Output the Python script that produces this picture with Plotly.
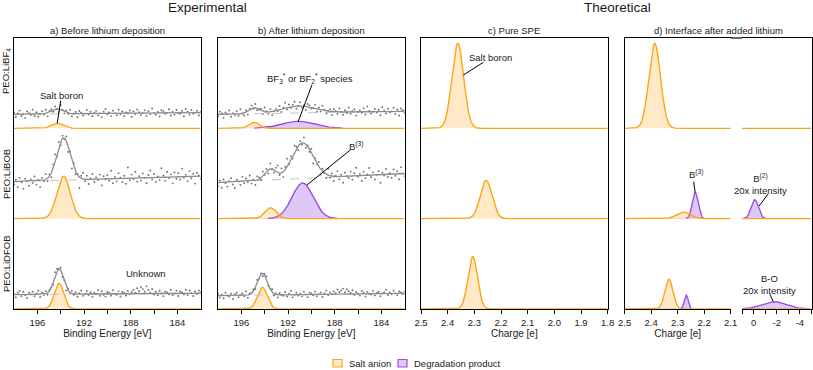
import numpy as np
import plotly.graph_objects as go

W, H = 813, 370
FONT = "Liberation Sans, Arial, sans-serif"

ORANGE = "#FFA514"
ORANGE_FILL = "rgba(255,175,50,0.28)"
PURPLE = "#9B4DE8"
PURPLE_FILL = "rgba(150,85,230,0.32)"

# sample rows, top to bottom; each row is one unit high on the y axes
row_labels = ["PEO:LiBF<sub>4</sub>", "PEO:LiBOB", "PEO:LiDFOB"]
row_offset = [2, 1, 0]

# peak components: panel, row, kind, centre, height (row units), sigma
peak_panel = ["a", "a", "a", "b", "b", "b", "b", "b",
              "c", "c", "c", "d1", "d1", "d1", "d1", "d1", "d2", "d2"]
peak_row = [0, 1, 2, 0, 0, 1, 1, 2, 0, 1, 2, 0, 1, 1, 2, 2, 1, 2]
peak_kind = ["salt", "salt", "salt", "salt", "deg", "salt", "deg", "salt",
             "salt", "salt", "salt", "salt", "salt", "deg", "salt", "deg", "deg", "deg"]
peak_centre = [194.3, 193.75, 194.15, 194.9, 191.1, 193.5, 190.75, 194.2,
               2.362, 2.256, 2.306, 2.387, 2.278, 2.234, 2.333, 2.268, -0.1, -1.8]
peak_height = [0.055, 0.47, 0.285, 0.066, 0.078, 0.12, 0.395, 0.24,
               0.94, 0.424, 0.58, 0.94, 0.072, 0.29, 0.33, 0.155, 0.21, 0.08]
peak_sigma = [0.5, 0.57, 0.40, 0.45, 1.4, 0.48, 0.91, 0.42,
              0.022, 0.022, 0.018, 0.022, 0.026, 0.011, 0.015, 0.007, 0.31, 1.05]

# XPS spectra: linear background (at 198 eV and at 182 eV)
spec_panel = ["a", "a", "a", "b", "b", "b"]
spec_row = [0, 1, 2, 0, 1, 2]
bg_left = [0.155, 0.41, 0.16, 0.155, 0.40, 0.148]
bg_right = [0.175, 0.47, 0.175, 0.19, 0.50, 0.175]

# measured points, as deviation from the fit envelope (hundredths of a row)
res_a1 = [2, -3, 1, 4, -2, 0, -4, 3, 1, -1, 5, -2, 2, -3, 0, 3, -1, 4, -4, 1, 2, -2, 3, 0, -3, 5, 1, -2, 2, -1,
          4, -3, 0, 2, -4, 3, 1, -2, 0, 4, -1, 2, -3, 1, 3, -2, 0, -4, 2, 5, -1, 1, -3, 3, 0, -2, 4, -1, 2, -3,
          1, 0, 3, -4, 2, -1, 4, 1, -2, 0, 3, -3, 2, -1, 5, 0, -2, 1, -4, 3, 2, -1, 0, 4, -3, 1, -2, 3, 0, -1,
          2, -4, 4, 1, -2, 3, -1, 0, 2, -3, 1]
res_a2 = [-3, 2, -6, 4, -1, -8, 3, 0, -5, 2, -2, 5, -4, 1, -7, 3, -1, 6, -3, 2, -5, 4, 8, -2, 6, -4, 3, -1, 5, -6,
          2, -9, 4, -3, 1, -12, 3, 7, -2, 4, -5, 1, 6, -3, 2, -1, 5, -7, 3, 0, 4, -2, 9, -5, 2, -3, 6, 1, -4, 3,
          -6, 12, -2, 4, -1, 7, -4, 2, -3, 5, 0, -6, 3, 8, -2, 4, -5, 1, -3, 10, 2, -4, 6, -1, 3, -7, 5, -2, 4, -3,
          9, -1, 2, -5, 6, -2, 3, -8, 4, 1, -3]
res_a3 = [1, -3, 2, 4, -2, 3, -1, -4, 2, 0, 3, -2, 1, 4, -3, 2, -1, 3, -2, 1, 0, -3, 4, 2, -1, 3, -2, 1, -4, 2,
          0, 3, -1, 2, -3, 1, 4, -2, 0, 3, -1, 2, -3, 1, 0, 4, -2, 3, -1, -3, 2, 1, -2, 4, 0, -1, 3, -3, 2, 1,
          -2, 3, 0, 2, 4, 1, 6, 3, 7, 5, 2, 8, 4, 1, 5, -1, 2, -2, 3, 0, -3, 2, 1, -1, 4, -2, 0, 3, -3, 2,
          1, -1, 4, -2, 3, 0, -3, 2, -1, 3, 1]
res_b1 = [-2, 3, 1, -4, 2, 0, 4, -3, 1, -1, 3, -2, 5, 0, -3, 2, -4, 1, 3, -1, 4, -2, 0, 2, -3, 5, 1, -2, 3, -4,
          0, 2, -1, 4, -3, 1, 6, -2, 3, -1, 2, 5, -3, 0, 4, -2, 1, -4, 3, 2, -1, 0, 4, -3, 2, -2, 5, 1, -3, 0,
          2, -4, 3, 1, -2, 4, 0, -3, 2, -1, 5, -2, 1, 3, -4, 0, 2, -1, 4, -3, 6, 1, -2, 0, 3, -1, 2, -4, 5, 1,
          -2, 3, -1, 0, 4, -3, 2, -5, 3, 1, -2]
res_b2 = [-4, 2, -6, 3, -1, -5, 1, 4, -3, -7, 2, 0, -4, 5, -2, 3, -1, 6, -3, 1, -5, 4, 2, -2, 5, -1, 3, -4, 6, 0,
          -3, 4, 8, -2, 5, -6, 3, 9, -1, 4, -3, 7, 2, -5, 3, -2, 6, -4, 1, -3, 4, -8, 2, -1, 5, -6, 3, 0, -4, 7,
          -2, 3, -5, 1, 6, -3, 2, -7, 4, 0, -2, 5, -4, 3, 9, -1, 2, -6, 4, -3, 1, 8, -2, 3, -5, 0, 4, -9, 2, -1,
          6, -3, 1, -4, 5, -2, 3, -6, 7, 0, -3]
res_b3 = [2, -2, 1, -3, 3, 0, -1, 2, -4, 1, 3, -2, 0, 2, -1, 4, -3, 1, 0, 2, -2, 3, -1, 1, -3, 2, 4, -1, 0, 3,
          -2, 1, -3, 2, 0, -1, 3, -2, 1, 4, -3, 0, 2, -1, 1, -2, 3, 0, -3, 2, 1, -1, 3, -2, 0, 2, -3, 1, 4, -1,
          2, 0, 3, 1, 5, 2, 4, 6, 2, 5, 3, 1, 4, -1, 2, 0, -2, 3, 1, -3, 2, 0, -1, 3, -2, 1, 2, -3, 0, 1,
          4, -2, 1, -1, 3, 0, -2, 2, 1, -1, 2]
residuals = [res_a1, res_a2, res_a3, res_b1, res_b2, res_b3]

be_ticks = [196, 194, 192, 190, 188, 186, 184]
be_text = ["196", "", "192", "", "188", "", "184"]
charge_ticks = [2.5, 2.4, 2.3, 2.2, 2.1, 2.0, 1.9, 1.8]
charge_text = ["2.5", "2.4", "2.3", "2.2", "2.1", "2.0", "1.9", "1.8"]
d_ticks = [2.5, 2.4, 2.3, 2.2, 2.1]
d_text = ["2.5", "2.4", "2.3", "2.2", "2.1"]
d2_ticks = [1, 0, -1, -2, -3, -4, -5]
d2_text = ["", "0", "", "-2", "", "-4", ""]

panels = {
    "a": dict(n=1, rng=[198, 182], px=(14, 200.7), tv=be_ticks, tt=be_text, title="Binding Energy [eV]"),
    "b": dict(n=2, rng=[198, 182], px=(218, 404.7), tv=be_ticks, tt=be_text, title="Binding Energy [eV]"),
    "c": dict(n=3, rng=[2.5, 1.8], px=(421, 607.7), tv=charge_ticks, tt=charge_text, title="Charge [e]"),
    "d1": dict(n=4, rng=[2.5, 2.1], px=(624.7, 730.7), tv=d_ticks, tt=d_text, title="Charge [e]"),
    "d2": dict(n=5, rng=[1, -5], px=(742, 811.5), tv=d2_ticks, tt=d2_text, title=""),
}


def gauss(x, c, h, s):
    return h * np.exp(-0.5 * ((x - c) / s) ** 2)


def comps(panel, row, kind, x):
    y = np.zeros_like(x)
    for p, r, k, c, h, s in zip(peak_panel, peak_row, peak_kind, peak_centre, peak_height, peak_sigma):
        if p == panel and r == row and (kind is None or k == kind):
            y += gauss(x, c, h, s)
    return y


def px_x(v):
    return v / W


def px_y(v):
    return 1 - v / H


def axis_ids(n):
    return ("x", "y") if n == 1 else (f"x{n}", f"y{n}")


fig = go.Figure()

for key, p in panels.items():
    xs = np.linspace(p["rng"][0], p["rng"][1], 1201)
    xa, ya = axis_ids(p["n"])
    for row in range(3):
        off = row_offset[row]
        for kind, lc, fc in (("deg", PURPLE, PURPLE_FILL), ("salt", ORANGE, ORANGE_FILL)):
            has = any(pp == key and r == row and k == kind for pp, r, k in zip(peak_panel, peak_row, peak_kind))
            if not has and kind == "deg":
                continue
            y = comps(key, row, kind, xs)
            if has:
                fig.add_trace(go.Scatter(
                    x=np.concatenate([xs, xs[::-1]]), y=np.concatenate([y + off, np.full_like(xs, off)]),
                    fill="toself", fillcolor=fc, line=dict(width=0), mode="lines",
                    hoverinfo="skip", showlegend=False, xaxis=xa, yaxis=ya))
            if kind == "deg":
                xl = np.where(y > 2e-3, xs, np.nan)
                fig.add_trace(go.Scatter(x=xl, y=y + off, mode="lines", line=dict(color=lc, width=1.4),
                                         connectgaps=False, hoverinfo="skip", showlegend=False,
                                         xaxis=xa, yaxis=ya))
            else:
                fig.add_trace(go.Scatter(x=xs, y=y + off, mode="lines", line=dict(color=lc, width=1.4),
                                         hoverinfo="skip", showlegend=False, xaxis=xa, yaxis=ya))

# XPS measured points, background and fit envelope
for i, (key, row) in enumerate(zip(spec_panel, spec_row)):
    xa, ya = axis_ids(panels[key]["n"])
    off = row_offset[row]
    xs = np.linspace(198, 182, 801)
    bg = bg_left[i] + (bg_right[i] - bg_left[i]) * (198 - xs) / 16
    env = bg + comps(key, row, None, xs)
    fig.add_trace(go.Scatter(x=xs, y=bg + off, mode="lines",
                             line=dict(color="#c4c4c4", width=1, dash="dash"),
                             hoverinfo="skip", showlegend=False, xaxis=xa, yaxis=ya))
    res = np.array(residuals[i]) / 100
    xp = np.linspace(198, 182, len(res))
    bgp = bg_left[i] + (bg_right[i] - bg_left[i]) * (198 - xp) / 16
    yp = bgp + comps(key, row, None, xp) + res + off
    fig.add_trace(go.Scatter(x=xp, y=yp, mode="markers", marker=dict(color="#707070", size=1.9),
                             hoverinfo="skip", showlegend=False, xaxis=xa, yaxis=ya))
    fig.add_trace(go.Scatter(x=xs, y=env + off, mode="lines", line=dict(color="#8c8c8c", width=1.3),
                             hoverinfo="skip", showlegend=False, xaxis=xa, yaxis=ya))

ydom = [px_y(309), px_y(38)]
layout = dict(width=W, height=H, margin=dict(l=0, r=0, t=0, b=0, autoexpand=False),
              paper_bgcolor="white", plot_bgcolor="white",
              font=dict(family=FONT, size=10, color="#1a1a1a"), showlegend=False)
for key, p in panels.items():
    n = p["n"]
    xa, ya = axis_ids(n)
    sx = "xaxis" if n == 1 else f"xaxis{n}"
    sy = "yaxis" if n == 1 else f"yaxis{n}"
    layout[sx] = dict(domain=[px_x(p["px"][0]), px_x(p["px"][1])], range=p["rng"], anchor=ya,
                      showline=True, linecolor="black", linewidth=1.2, mirror=True,
                      ticks="outside", ticklen=4, tickwidth=1, tickcolor="black",
                      tickvals=p["tv"], ticktext=p["tt"], tickfont=dict(size=9.5),
                      showgrid=False, zeroline=False, automargin=False,
                      title=dict(text=p["title"], font=dict(size=10), standoff=3))
    yax = dict(domain=ydom, range=[0, 3], anchor=xa, automargin=False,
               showticklabels=False, ticks="", showgrid=False, zeroline=False,
               showline=True, linecolor="black", linewidth=1.2, mirror=key in ("a", "b", "c"))
    if key == "d2":
        yax["side"] = "right"
    layout[sy] = yax
fig.update_layout(**layout)

shapes = [dict(type="line", xref="paper", yref="paper", x0=px_x(730.7), x1=px_x(742),
               y0=px_y(38), y1=px_y(38), line=dict(color="black", width=1.2))]

ann = []


def paper_text(text, x, y, size, **kw):
    ann.append(dict(text=text, x=px_x(x), y=px_y(y), xref="paper", yref="paper",
                    xanchor=kw.pop("xanchor", "center"), yanchor="middle",
                    showarrow=False, font=dict(size=size), **kw))


paper_text("Experimental", 208, 7.5, 13.5)
paper_text("Theoretical", 617, 7.5, 13.5)
for text, x in (("a) Before lithium deposition", 107), ("b) After lithium deposition", 311),
                ("c) Pure SPE", 514), ("d) Interface after added lithium", 718)):
    paper_text(text, x, 30.5, 9.5)
for text, y in zip(row_labels, (71, 174, 264)):
    paper_text(text, 6, y, 9.5, textangle=-90)

# peak labels: text, axis number, text position, leader line start and end
labels = [
    ("Salt boron", 1, (193.97, 2.365), (194.0, 2.305), (194.29, 2.057)),
    ("Unknown", 1, (186.69, 0.398), None, None),
    ("BF<sub>3</sub><sup>*</sup> or BF<sub>2</sub><sup>*</sup> species", 2, (190.09, 2.554),
     (189.95, 2.48), (191.14, 2.07)),
    ("B<sup>(3)</sup>", 2, (186.2, 1.80), (186.66, 1.76), (190.37, 1.373)),
    ("Salt boron", 3, (2.241, 2.782), (2.266, 2.731), (2.341, 2.59)),
    ("B<sup>(3)</sup>", 4, (2.23, 1.49), (2.24, 1.409), (2.234, 1.29)),
    ("B<sup>(2)</sup><br>20x intensity", 5, (-0.62, 1.38), (-1.25, 1.273), (-0.48, 1.14)),
    ("B-O<br>20x intensity", 5, (-1.34, 0.27), (-1.4, 0.163), (-1.7, 0.083)),
]
for text, n, (tx, ty), p0, p1 in labels:
    xr, yr = axis_ids(n)
    ann.append(dict(text=text, x=tx, y=ty, xref=xr, yref=yr, showarrow=False,
                    xanchor="center", yanchor="middle", font=dict(size=9.5)))
    if p0 is not None:
        shapes.append(dict(type="line", xref=xr, yref=yr, x0=p0[0], y0=p0[1], x1=p1[0], y1=p1[1],
                           line=dict(color="black", width=1)))

# legend
for name, x, lc, fc in (("Salt anion", 333, ORANGE, ORANGE_FILL),
                        ("Degradation product", 398, PURPLE, PURPLE_FILL)):
    shapes.append(dict(type="rect", xref="paper", yref="paper", x0=px_x(x), x1=px_x(x + 9),
                       y0=px_y(367), y1=px_y(359.5), line=dict(color=lc, width=1.2), fillcolor=fc))
    paper_text(name, x + 14, 363.3, 9.5, xanchor="left")

fig.update_layout(shapes=shapes, annotations=ann)
# drop the browser's default page margin so the figure fills the window
fig.write_html("out.html", config={"displayModeBar": False},
               post_script="document.body.style.margin='0';")
